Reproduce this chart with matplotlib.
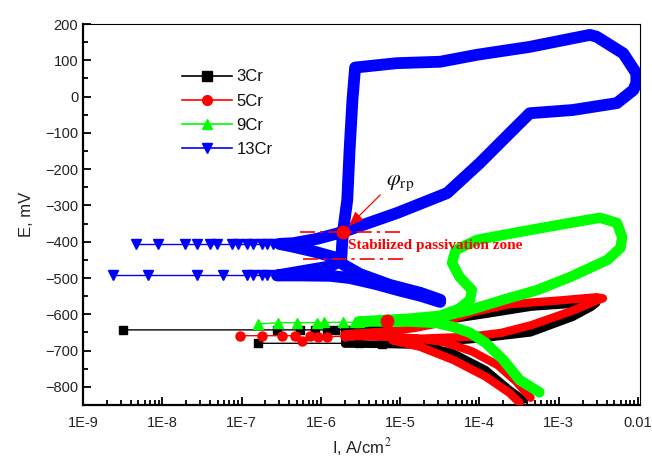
import numpy as np
import matplotlib
matplotlib.use("Agg")
import matplotlib.pyplot as plt
from matplotlib.ticker import FixedLocator, LogLocator, FuncFormatter, MultipleLocator, NullFormatter

plt.rcParams['font.family'] = ['Liberation Sans', 'DejaVu Sans']
plt.rcParams['mathtext.fontset'] = 'stix'

# ---------------- data ----------------
labels = ['3Cr', '5Cr', '9Cr', '13Cr']
colors = ['#000000', '#ff0000', '#00ff00', '#0000ff']
markers = ['s', 'o', '^', 'v']

# 3Cr (black) dense band path
cr3_I = [3.6e-4, 2.4e-4, 1.2e-4, 4.6e-5, 1.8e-5, 7e-6, 3e-6, 2e-6,
         2e-6, 8e-6, 2e-5, 4.5e-5, 1.2e-4, 4.5e-4, 1.5e-3, 3e-3,
         2.6e-3, 1.5e-3, 4.4e-4, 1.5e-4, 7.6e-5, 3e-5, 1.2e-5]
cr3_E = [-836, -808, -753, -706, -685, -683, -682, -682,
         -643, -636, -626, -614, -600, -580, -572, -569,
         -580, -608, -651, -663, -670, -676, -680]
# 3Cr sparse tails
cr3_tail1_I = [3.2e-9, 2.8e-7, 5.5e-7, 8.5e-7, 1.2e-6, 1.5e-6, 2e-6]
cr3_tail1_E = [-643, -643, -643, -643, -643, -642, -642]
cr3_tail2_I = [1.6e-7, 3e-6, 5.9e-6]
cr3_tail2_E = [-680, -680, -683]

# 5Cr (red) dense band path
cr5_I = [4.4e-4, 2.9e-4, 1.7e-4, 8e-5, 3.5e-5, 1.5e-5, 5e-6, 2e-6,
         2e-6, 6e-6, 1.5e-5, 3.5e-5, 7.6e-5, 2.4e-4, 1e-3, 3e-3, 3.6e-3,
         3e-3, 1.5e-3, 4.5e-4, 1.9e-4, 7.6e-5, 3.2e-5, 1.5e-5, 8e-6,
         1.8e-5, 4.7e-5, 1.2e-4, 2.4e-4, 3.2e-4]
cr5_E = [-830, -785, -740, -702, -676, -666, -661, -660,
         -655, -648, -638, -622, -596, -572, -562, -553, -556,
         -562, -590, -630, -651, -662, -665, -668, -672,
         -690, -726, -772, -817, -844]
cr5_tail_I = [9.6e-8, 1.8e-7, 3.2e-7, 4.7e-7, 5.7e-7, 7.2e-7, 9.2e-7, 1.2e-6, 2e-6]
cr5_tail_E = [-659, -659, -659, -659, -673, -661, -662, -662, -660]

# 9Cr (green) dense band path
cr9_I = [5.7e-4, 3.2e-4, 2e-4, 1.2e-4, 7.6e-5, 4.7e-5, 2.9e-5, 1.3e-5, 5e-6, 3e-6,
         5e-6, 1.3e-5, 3.2e-5, 5.5e-5, 7.6e-5, 8e-5, 5.6e-5, 4.5e-5, 5e-5, 9.3e-5,
         3.2e-4, 1.4e-3, 3.3e-3, 5.4e-3, 6.3e-3, 6e-3, 4.1e-3, 1.4e-3, 5.4e-4,
         2e-4, 7.6e-5, 3.2e-5, 1.8e-5, 8e-6]
cr9_E = [-815, -781, -726, -679, -651, -635, -624, -620, -620, -620,
         -617, -612, -604, -585, -560, -533, -497, -458, -423, -395,
         -373, -348, -334, -348, -387, -417, -450, -497, -533,
         -560, -588, -607, -615, -620]
cr9_tail_I = [1.6e-7, 2.9e-7, 5e-7, 8.9e-7, 1.1e-6, 1.9e-6, 2.7e-6, 3e-6]
cr9_tail_E = [-627, -623, -623, -623, -622, -622, -622, -621]

# 13Cr (blue) dense band path
cr13_I = [3.2e-5, 1.8e-5, 1.0e-5, 4.8e-6, 2.3e-6, 1.3e-6, 5.5e-7, 2.8e-7,
          5.5e-7, 1.3e-6, 1.8e-6, 1.85e-6, 1.9e-6, 2.15e-6, 2.3e-6, 2.5e-6, 2.7e-6,
          9.0e-6, 3.2e-5, 9.2e-5, 4.3e-4, 2.46e-3, 3.0e-3, 6.5e-3, 9.5e-3, 9.5e-3,
          8.7e-3, 5.4e-3, 1.5e-3, 4.3e-4, 2.4e-4, 1.0e-4, 3.9e-5, 9.1e-6, 1.9e-6,
          9e-7, 4.5e-7, 3e-7, 4.5e-7, 8.5e-7, 1.6e-6, 1.95e-6, 3.1e-6, 7.4e-6,
          1.8e-5, 3.2e-5]
cr13_E = [-566, -549, -535, -516, -500, -494, -493, -493,
          -482, -468, -452, -409, -373, -285, -147, -9, 80,
          92, 96, 115, 137, 170, 165, 119, 64, 37,
          18, -18, -37, -46, -101, -184, -266, -321, -373,
          -392, -404, -406, -414, -428, -445, -464, -489, -519,
          -541, -560]
cr13_tail1_I = [2.4e-9, 6.6e-9, 2.75e-8, 5.8e-8, 1.17e-7, 1.4e-7, 1.8e-7, 2.1e-7, 2.8e-7]
cr13_tail1_E = [-493, -493, -493, -493, -493, -493, -493, -493, -493]
cr13_tail2_I = [4.6e-9, 8.9e-9, 1.95e-8, 2.75e-8, 4e-8, 4.9e-8, 7.6e-8, 9e-8,
                1.17e-7, 1.4e-7, 1.8e-7, 2.1e-7, 2.5e-7, 3e-7]
cr13_tail2_E = [-406] * 14

# annotation values
phi_rp_I, phi_rp_E = 1.9e-6, -373
ecorr_dot_I, ecorr_dot_E = 6.8e-6, -618
zone_top_I = [5.5e-7, 1.1e-5]
zone_top_E = [-373, -373]
zone_bot_I = [6.0e-7, 1.2e-5]
zone_bot_E = [-447, -447]

x_ticks = [1e-9, 1e-8, 1e-7, 1e-6, 1e-5, 1e-4, 1e-3, 1e-2]
x_ticklabels = ['1E-9', '1E-8', '1E-7', '1E-6', '1E-5', '1E-4', '1E-3', '0.01']
y_ticks = [200, 100, 0, -100, -200, -300, -400, -500, -600, -700, -800]

# ---------------- figure ----------------
fig = plt.figure(figsize=(6.52, 4.62), dpi=100)
ax = fig.add_axes([83/652, 1-405/462, 557/652, 381/462])

bands = [(cr3_I, cr3_E), (cr5_I, cr5_E), (cr9_I, cr9_E), (cr13_I, cr13_E)]
tails = [[(cr3_tail1_I, cr3_tail1_E), (cr3_tail2_I, cr3_tail2_E)],
         [(cr5_tail_I, cr5_tail_E)],
         [(cr9_tail_I, cr9_tail_E)],
         [(cr13_tail1_I, cr13_tail1_E), (cr13_tail2_I, cr13_tail2_E)]]
band_lw = [5.5, 6.0, 7.5, 8.5]
msz = [6, 6.5, 7, 7]

for i in range(4):
    for tI, tE in tails[i]:
        ax.plot(tI, tE, color=colors[i], lw=1.0, marker=markers[i], ms=msz[i],
                zorder=2 + i)
    bI, bE = bands[i]
    ax.plot(bI, bE, color=colors[i], lw=band_lw[i], solid_joinstyle='round',
            solid_capstyle='round', zorder=2 + i)
    # legend proxy
    ax.plot([], [], color=colors[i], lw=1.2, marker=markers[i], ms=7, label=labels[i])

# annotations
ax.plot(zone_top_I, zone_top_E, color='red', lw=1.2, ls='-.', dashes=(9, 3, 2, 3), zorder=7)
ax.plot(zone_bot_I, zone_bot_E, color='red', lw=1.2, ls='-.', dashes=(9, 3, 2, 3), zorder=7)
ax.plot([phi_rp_I], [phi_rp_E], 'o', color='red', ms=9, zorder=8)
ax.plot([ecorr_dot_I], [ecorr_dot_E], 'o', color='red', ms=9, zorder=8)
ax.annotate('', xy=(2.25e-6, -357), xytext=(5.6e-6, -271),
            arrowprops=dict(arrowstyle='-|>,head_length=0.9,head_width=0.35',
                            color='red', lw=0.9, shrinkA=0, shrinkB=0), zorder=9)
ax.text(1.0e-5, -236, r'$\varphi_{\rm rp}$', fontsize=16, ha='center', va='center', color='#111')
ax.text(2.2e-6, -410, 'Stabilized passivation zone', color='red', fontsize=11,
        fontweight='bold', family=['Liberation Serif', 'DejaVu Serif'], ha='left', va='center',
        zorder=9)

# axes
ax.set_xscale('log')
ax.set_xlim(1e-9, 10 ** (-9 + 557 / 79.3))
ax.set_ylim(-850, 200)
ax.xaxis.set_major_locator(FixedLocator(x_ticks))
ax.xaxis.set_major_formatter(FuncFormatter(lambda v, p: x_ticklabels[x_ticks.index(min(x_ticks, key=lambda t: abs(np.log10(t) - np.log10(v))))]))
ax.xaxis.set_minor_locator(LogLocator(base=10, subs=np.arange(2, 10), numticks=20))
ax.xaxis.set_minor_formatter(NullFormatter())
ax.yaxis.set_major_locator(FixedLocator(y_ticks))
ax.yaxis.set_minor_locator(MultipleLocator(50))
ax.tick_params(which='both', direction='in', top=False, right=False, labelsize=10.5,
               labelcolor='#222', width=1.3)
ax.tick_params(which='major', length=6)
ax.tick_params(which='minor', length=3.5)
ax.tick_params(axis='x', pad=8)
for s in ['left', 'bottom']:
    ax.spines[s].set_linewidth(1.6)
for s in ['top', 'right']:
    ax.spines[s].set_linewidth(0.8)

ax.set_xlabel('I, A/cm$^2$', fontsize=12, color='#222', labelpad=4)
ax.set_ylabel('E, mV', fontsize=12, color='#222', labelpad=8)

leg = ax.legend(loc='upper left', bbox_to_anchor=(0.15, 0.92), frameon=False,
                fontsize=12, handlelength=3.0, handletextpad=0.3, labelspacing=0.55)
for t in leg.get_texts():
    t.set_color('#111')

fig.savefig('out.png', dpi=100)
